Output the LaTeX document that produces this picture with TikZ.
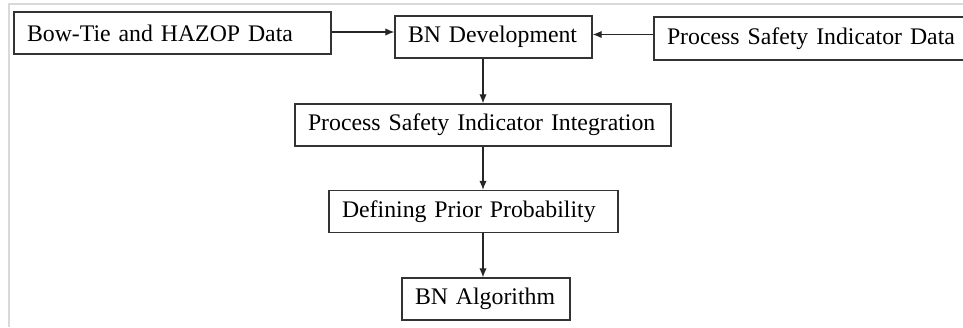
\documentclass[tikz,border=0pt]{standalone}
\usepackage{fontspec}
\setmainfont{Liberation Serif}
\usetikzlibrary{arrows,arrows.meta,calc}
\tikzset{>={Latex[length=0.27cm,width=0.22cm]},%
  stepbox/.style={draw=black!80,line width=1.2pt,text width=#1,align=left,
    inner xsep=0.39cm,minimum height=1.26cm,
    font=\fontsize{20.3}{24}\selectfont},
  flow/.style={->,line width=0.9pt,black!85}}

\begin{document}
\begin{tikzpicture}
    \clip (0,0) rectangle (28.89,-9.81);
    \useasboundingbox (0,0) rectangle (28.89,-9.81);
    % frame of the screenshot
    \draw[black!15,line width=1.6pt] (28.89,-0.12) -- (0.27,-0.12) -- (0.27,-9.81);
    \node[stepbox=8.73cm] (bowtie) at (5.175,-0.99) {Bow-Tie and HAZOP Data};
    \node[stepbox=5.13cm] (bndev) at (14.805,-1.11) {BN Development};
    \node[stepbox=8.85cm,minimum height=1.29cm] (psid) at (24.435,-1.155) {Process Safety Indicator Data};
    \node[stepbox=10.5cm] (psii) at (14.49,-3.75) {Process Safety Indicator Integration};
    \node[stepbox=7.89cm] (dpp) at (14.205,-6.345) {Defining Prior Probability};
    \node[stepbox=4.26cm] (bna) at (14.58,-8.97) {BN Algorithm};
    \draw[flow] ([yshift=0.03cm]bowtie.east) -- ([yshift=0.03cm]bowtie.east -| bndev.west);
    \draw[flow] ([yshift=0.12cm]psid.west) -- ([yshift=0.12cm]psid.west -| bndev.east);
    \draw[flow] (psii.north |- bndev.south) -- (psii.north);
    \draw[flow] (psii.south) -- (psii.south |- dpp.north);
    \draw[flow] (psii.south |- dpp.south) -- (psii.south |- bna.north);
\end{tikzpicture}
\end{document}
